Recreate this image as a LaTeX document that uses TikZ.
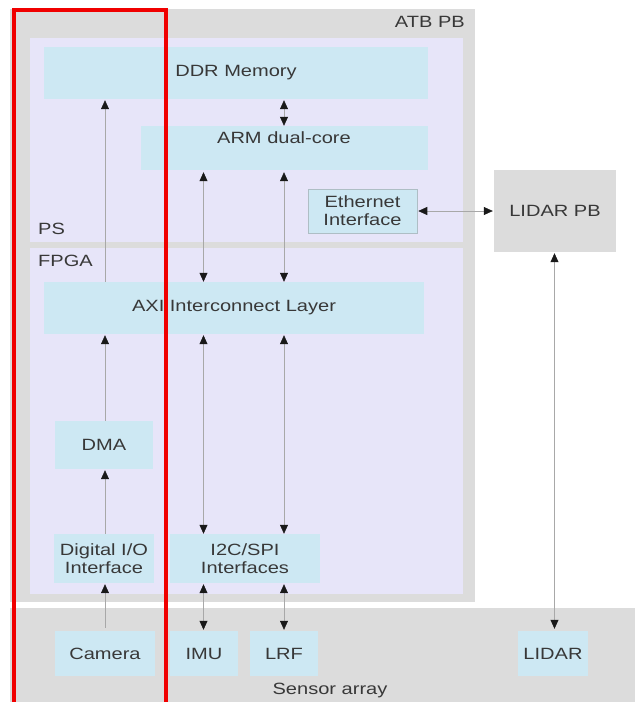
\documentclass[tikz,border=0pt]{standalone}
\usepackage{fontspec}
\setmainfont{Liberation Sans}[FakeStretch=1.23]
\usetikzlibrary{arrows.meta}
\definecolor{boardgray}{HTML}{DCDCDC}
\definecolor{lavender}{HTML}{E7E5F9}
\definecolor{blockblue}{HTML}{CDE8F3}
\definecolor{txtgray}{HTML}{383838}
\definecolor{wire}{HTML}{A8A8A8}
\definecolor{frame}{HTML}{F00000}
\begin{document}
\begin{tikzpicture}[x=1pt,y=-1pt,
  font=\fontsize{16.3}{17.8}\selectfont, text=txtgray,
  block/.style={rectangle, fill=blockblue, inner sep=0pt, align=center},
  board/.style={rectangle, fill=boardgray, inner sep=0pt},
  region/.style={rectangle, fill=lavender, inner sep=0pt},
  tag/.style={inner sep=0pt},
  arr/.style={-{Triangle[width=8pt,length=9pt,color=black!90]}, draw=wire, line width=0.6pt},
  darr/.style={{Triangle[width=8pt,length=9pt,color=black!90]}-{Triangle[width=8pt,length=9pt,color=black!90]}, draw=wire, line width=0.6pt}]
\useasboundingbox (0,0) rectangle (635,702);
\fill[white] (0,0) rectangle (635,702);

% boards and regions
\node[board, minimum width=465, minimum height=593] (atb) at (242.5,305.5) {};
\node[board, minimum width=625, minimum height=94] (sens) at (322.5,655) {};
\node[region, minimum width=433, minimum height=204] (ps) at (246.5,140) {};
\node[region, minimum width=433, minimum height=346] (fpga) at (246.5,421) {};
\node[tag, anchor=east] (atblbl) at (465,22) {ATB PB};
\node[tag, anchor=west] (pslbl) at (38,229) {PS};
\node[tag, anchor=west] (fpgalbl) at (38,261) {FPGA};
\node[tag] (senslbl) at (330,690) {Sensor array};

% blocks
\node[block, minimum width=384, minimum height=52] (ddr) at (236,73) {DDR Memory};
\node[block, minimum width=287, minimum height=44] (arm) at (284.5,148) {};
\node[tag] (armlbl) at (284,138) {ARM dual-core};
\node[block, draw=blockblue!60!gray, line width=0.5pt, minimum width=109, minimum height=44] (eth) at (362.5,211) {Ethernet\\Interface};
\node[board, minimum width=122, minimum height=82] (lidarpb) at (555,211) {LIDAR PB};
\node[block, minimum width=380, minimum height=52] (axi) at (234,308) {AXI Interconnect Layer};
\node[block, minimum width=98, minimum height=48] (dma) at (104,445) {DMA};
\node[block, minimum width=100, minimum height=49] (dio) at (104,558.5) {Digital I/O\\Interface};
\node[block, minimum width=150, minimum height=49] (i2c) at (245,558.5) {I2C/SPI\\Interfaces};
\node[block, minimum width=100, minimum height=45] (camera) at (105,653.5) {Camera};
\node[block, minimum width=68, minimum height=45] (imu) at (204,653.5) {IMU};
\node[block, minimum width=68, minimum height=45] (lrf) at (284,653.5) {LRF};
\node[block, minimum width=70, minimum height=45] (lidar) at (553,653.5) {LIDAR};

% bus columns
\coordinate (c0) at (105,0);
\coordinate (c1) at (203.5,0);
\coordinate (c2) at (284,0);
\coordinate (c3) at (554.5,0);

% connectors
\draw[arr, shorten <=3pt, shorten >=1pt] (camera.north -| c0) -- (dio.south -| c0);
\draw[arr, shorten >=1pt] (dio.north -| c0) -- (dma.south -| c0);
\draw[arr, shorten >=1pt] (dma.north -| c0) -- (axi.south -| c0);
\draw[arr, shorten >=1pt] (axi.north -| c0) -- (ddr.south -| c0);
\draw[darr, shorten <=1pt] (ddr.south -| c2) -- (arm.north -| c2);
\draw[darr, shorten <=2pt] (arm.south -| c1) -- (axi.north -| c1);
\draw[darr, shorten <=2pt] (arm.south -| c2) -- (axi.north -| c2);
\draw[darr, shorten <=1pt] (axi.south -| c1) -- (i2c.north -| c1);
\draw[darr, shorten <=1pt] (axi.south -| c2) -- (i2c.north -| c2);
\draw[darr, shorten <=1pt, shorten >=1pt] (i2c.south -| c1) -- (imu.north -| c1);
\draw[darr, shorten <=1pt, shorten >=1pt] (i2c.south -| c2) -- (lrf.north -| c2);
\draw[darr, shorten <=1pt, shorten >=1pt] (eth.east) -- (lidarpb.west);
\draw[darr, shorten <=1pt, shorten >=2pt] (lidarpb.south -| c3) -- (lidar.north -| c3);

% highlight frame
\draw[frame, line width=4pt] (13.5,10) rectangle (166,703.5);
\end{tikzpicture}
\end{document}
